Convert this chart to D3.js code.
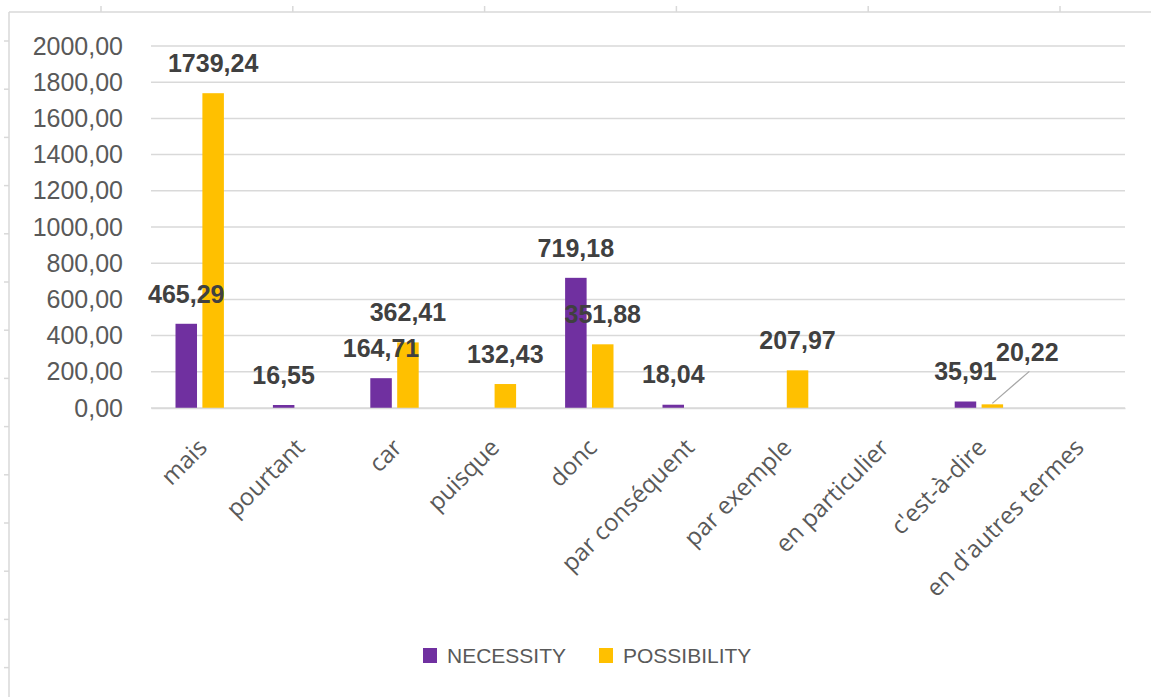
<!DOCTYPE html>
<html>
<head>
<meta charset="utf-8">
<script src="https://cdn.jsdelivr.net/npm/d3@7"></script>
<style>
  body { margin: 0; background: #fff; }
  svg { display: block; }
</style>
</head>
<body>
<div class="chart"></div>
<script>
// categories (connectors) and the two series
const categories = ["mais", "pourtant", "car", "puisque", "donc", "par conséquent",
  "par exemple", "en particulier", "c'est-à-dire", "en d'autres termes"];
const seriesNames = ["NECESSITY", "POSSIBILITY"];
const necessity = [465.29, 16.55, 164.71, null, 719.18, 18.04, null, null, 35.91, null];
const possibility = [1739.24, null, 362.41, 132.43, 351.88, null, 207.97, null, 20.22, null];
const yTicks = [0, 200, 400, 600, 800, 1000, 1200, 1400, 1600, 1800, 2000];

const colors = { NECESSITY: "#7030a0", POSSIBILITY: "#ffc000" };

const W = 1151, H = 697;
const svg = d3.select(".chart").append("svg")
  .attr("width", W)
  .attr("height", H);

// spreadsheet frame around the chart
const frame = svg.append("g").attr("stroke", "#d9d9d9").attr("stroke-width", 1.5);
frame.append("line").attr("x1", 9).attr("x2", W).attr("y1", 12).attr("y2", 12);
frame.append("line").attr("x1", 9).attr("x2", 9).attr("y1", 12).attr("y2", H);
d3.range(101, W, 191.8).forEach(x => {
  frame.append("line").attr("x1", x).attr("x2", x).attr("y1", 6).attr("y2", 12);
});
d3.range(41, H, 48.2).forEach(y => {
  frame.append("line").attr("x1", 4).attr("x2", 9).attr("y1", y).attr("y2", y);
});

const x0 = d3.scaleBand().domain(categories).range([151, 1125]);
const groupW = 48.4;
const x1 = d3.scaleBand().domain(seriesNames).range([0, groupW]).paddingInner(0.2);
const y = d3.scaleLinear().domain([0, 2000]).range([408, 46]);

const fmt = v => d3.format(".2f")(v).replace(".", ",");

// gridlines
svg.append("g")
  .selectAll("line")
  .data(yTicks)
  .join("line")
  .attr("x1", 151).attr("x2", 1125)
  .attr("y1", d => y(d)).attr("y2", d => y(d))
  .attr("stroke", "#d9d9d9")
  .attr("stroke-width", 1.5);

// y axis labels
const yAxis = svg.append("g")
  .attr("transform", "translate(123,0)")
  .call(d3.axisLeft(y).tickValues(yTicks).tickSize(0).tickPadding(0).tickFormat(fmt));
yAxis.select(".domain").remove();
yAxis.selectAll("text")
  .attr("font-family", "Liberation Sans, Arial, sans-serif")
  .attr("font-size", 25)
  .attr("fill", "#595959");

// bars
const rows = [];
categories.forEach((c, i) => {
  rows.push({ cat: c, s: "NECESSITY", v: necessity[i] });
  rows.push({ cat: c, s: "POSSIBILITY", v: possibility[i] });
});
const data = rows.filter(d => d.v != null);
const groupOff = (x0.bandwidth() - groupW) / 2;
const barX = d => x0(d.cat) + groupOff + x1(d.s);

svg.append("g")
  .selectAll("rect")
  .data(data)
  .join("rect")
  .attr("x", barX)
  .attr("width", x1.bandwidth())
  .attr("y", d => y(d.v))
  .attr("height", d => y(0) - y(d.v))
  .attr("fill", d => colors[d.s]);

// data labels (one label dragged aside with a leader line)
const moved = { cat: "c'est-à-dire", s: "POSSIBILITY", dx: 35, dy: -22 };
const isMoved = d => d.cat === moved.cat && d.s === moved.s;

data.filter(isMoved).forEach(d => {
  const bx = barX(d) + x1.bandwidth() / 2;
  svg.append("line")
    .attr("x1", bx).attr("y1", y(d.v) - 1)
    .attr("x2", bx + moved.dx + 2).attr("y2", y(d.v) - 33)
    .attr("stroke", "#a6a6a6").attr("stroke-width", 1.2);
});

svg.append("g")
  .selectAll("text")
  .data(data)
  .join("text")
  .attr("x", d => barX(d) + x1.bandwidth() / 2 + (isMoved(d) ? moved.dx : 0))
  .attr("y", d => y(d.v) - 30 + (isMoved(d) ? moved.dy : 0))
  .attr("dy", "0.35em")
  .attr("text-anchor", "middle")
  .attr("font-family", "Liberation Sans, Arial, sans-serif")
  .attr("font-weight", "bold")
  .attr("font-size", 25)
  .attr("fill", "#404040")
  .text(d => fmt(d.v));

// category axis, rotated labels
const xAxis = svg.append("g")
  .attr("transform", "translate(0,408)")
  .call(d3.axisBottom(x0).tickSize(0));
xAxis.select(".domain").attr("stroke", "#d9d9d9").attr("stroke-width", 1.5);
xAxis.selectAll("text")
  .attr("font-family", "Open Sans, sans-serif")
  .attr("font-size", 24)
  .attr("fill", "#595959")
  .attr("text-anchor", "end")
  .attr("dy", 0)
  .attr("y", 0)
  .attr("transform", "translate(9,41) rotate(-45)");

// legend
const legend = svg.append("g")
  .selectAll("g")
  .data(seriesNames)
  .join("g")
  .attr("transform", (d, i) => `translate(${[423, 599][i]},648)`);
legend.append("rect")
  .attr("width", 14).attr("height", 15)
  .attr("fill", d => colors[d]);
legend.append("text")
  .attr("x", 24).attr("y", 8)
  .attr("dy", "0.35em")
  .attr("font-family", "Liberation Sans, Arial, sans-serif")
  .attr("font-size", 21)
  .attr("fill", "#595959")
  .text(d => d);
</script>
</body>
</html>
